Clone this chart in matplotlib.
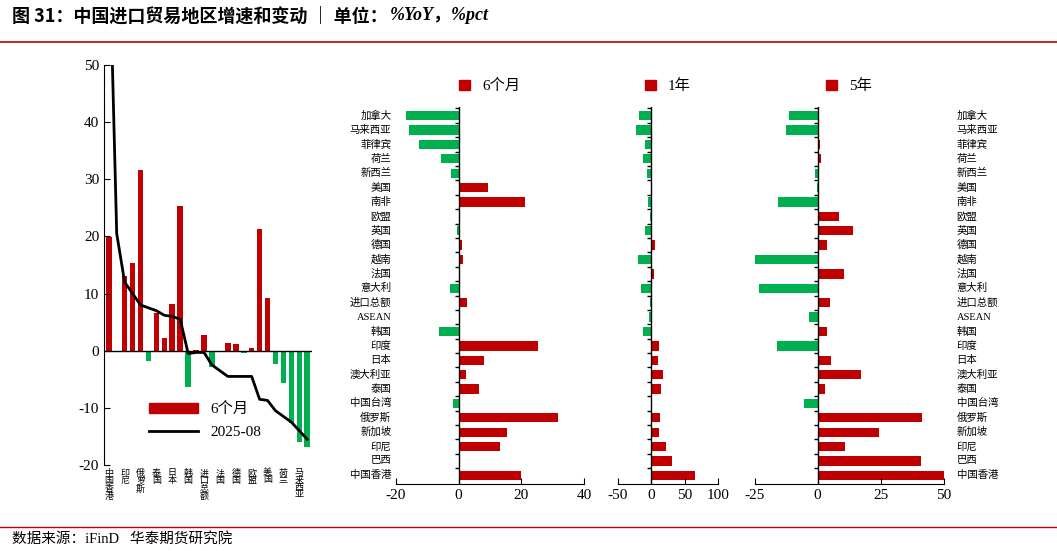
import matplotlib
matplotlib.use("Agg")
import matplotlib.pyplot as plt
from matplotlib.patches import Rectangle

plt.rcParams['font.family'] = ['Liberation Serif', 'Noto Sans CJK SC']
plt.rcParams['axes.unicode_minus'] = False

RED = "#C00000"
GREEN = "#00B050"

# categories bottom -> top
regions = ["中国香港", "巴西", "印尼", "新加坡", "俄罗斯", "中国台湾", "泰国", "澳大利亚", "日本", "印度",
           "韩国", "ASEAN", "进口总额", "意大利", "法国", "越南", "德国", "英国", "欧盟", "南非",
           "美国", "新西兰", "荷兰", "菲律宾", "马来西亚", "加拿大"]
m6 = [19.9, 0, 13.1, 15.3, 31.6, -1.8, 6.6, 2.2, 8.2, 25.3,
      -6.3, 0.1, 2.8, -2.8, 0, 1.3, 1.2, -0.4, 0.4, 21.3,
      9.3, -2.4, -5.7, -12.6, -16.0, -16.8]
y1 = [66, 31, 22, 11, 12.5, 1, 14, 17, 9.5, 12,
      -13, -3, -1.5, -16, 4.5, -20, 6, -10, -1.5, -4.5,
      0.5, -6, -13, -10, -22, -18]
y5 = [50.6, 40.8, 10.8, 24.1, 41.4, -5.4, 2.8, 17.1, 5.1, -15.9,
      3.7, -3.6, 4.7, -23.3, 10.3, -24.9, 3.7, 13.8, 8.6, -15.7,
      -0.2, -0.9, 1.3, 0.8, -12.6, -11.5]
line_2508 = [75, 20.5, 12, 10, 8, 7.5, 7, 6.2, 6, 5.5,
             -0.5, -0.3, -0.3, -2.5, -3.5, -4.5, -4.5, -4.5, -4.5, -8.5,
             -8.7, -10.5, -11.5, -12.5, -14, -15.5]

W, H = 1057, 551
fig = plt.figure(figsize=(W / 100, H / 100), dpi=100)

def rect(x0, y0, x1, y1_):
    return [x0 / W, 1 - y1_ / H, (x1 - x0) / W, (y1_ - y0) / H]

def colors(vals):
    return [RED if v >= 0 else GREEN for v in vals]

# title and footer
t1 = fig.text(12 / W, 1 - 16 / H, "图 31：中国进口贸易地区增速和变动 ｜ 单位：", fontsize=13, fontweight='bold',
              va='center', family=['Noto Sans CJK SC'])
fig.canvas.draw()
bb = t1.get_window_extent(fig.canvas.get_renderer())
fig.text(bb.x1 / W + 0.002, 1 - 16 / H, "%YoY，%pct", fontsize=13, fontweight='bold', style='italic',
         va='center', family=['Liberation Serif', 'Noto Sans CJK SC'])
fig.add_artist(plt.Line2D([0, 1], [1 - 42 / H, 1 - 42 / H], color=RED, lw=1.2))
fig.add_artist(plt.Line2D([0, 1], [1 - 527 / H, 1 - 527 / H], color=RED, lw=1.0))
fig.text(12 / W, 1 - 539 / H, "数据来源：iFinD   华泰期货研究院", fontsize=10.5, va='center')

# left chart
ax = fig.add_axes(rect(104, 65, 312, 465))
xs = range(len(regions))
ax.bar(xs, m6, width=0.7, color=colors(m6))
ax.plot(xs, line_2508, color='black', lw=2)
ax.set_ylim(-20, 50)
ax.set_xlim(-0.6, len(regions) - 0.4)
ax.set_yticks(range(-20, 51, 10))
ax.tick_params(axis='y', labelsize=11, direction='in', length=4)
ax.axhline(0, color='black', lw=1)
ax.set_xticks(list(xs)[::2])
ax.set_xticklabels(["\n".join(r) for r in regions[::2]], fontsize=6.5, linespacing=0.85, va='top')
ax.tick_params(axis='x', length=0, pad=3)
for s in ['top', 'right', 'bottom']:
    ax.spines[s].set_visible(False)
ax.legend([Rectangle((0, 0), 1, 1, color=RED), ax.lines[0]], ["6个月", "2025-08"], loc='lower left',
          bbox_to_anchor=(0.15, 0.03), frameon=False, fontsize=11, handlelength=3.2, labelspacing=0.6)

# right panels
panels = [
    ("6个月", m6, (396, 584), (-20, 40), [-20, 0, 20, 40]),
    ("1年", y1, (617.7, 718.3), (-50, 100), [-50, 0, 50, 100]),
    ("5年", y5, (754.5, 944), (-25, 50), [-25, 0, 25, 50]),
]
for i, (name, vals, (x0, x1), lim, ticks) in enumerate(panels):
    a = fig.add_axes(rect(x0, 107, x1, 484))
    a.barh(range(len(regions)), vals, height=0.65, color=colors(vals))
    a.set_xlim(*lim)
    a.set_ylim(-0.6, len(regions) - 0.4)
    a.set_xticks(ticks)
    a.tick_params(axis='x', labelsize=11, direction='in', length=4)
    for s in ['top', 'right', 'left']:
        a.spines[s].set_visible(False)
    a.axvline(0, color='black', lw=1)
    a.set_yticks([])
    a.plot([0] * len(regions), [k + 0.5 for k in range(len(regions))], ls='none', marker=0,
           color='black', markersize=3)
    if i == 0:
        for k, r in enumerate(regions):
            a.text(-21.5, k, r, ha='right', va='center', fontsize=7.5)
    if i == 2:
        for k, r in enumerate(regions):
            a.text(55, k, r, ha='left', va='center', fontsize=7.5)
    a.legend([Rectangle((0, 0), 1, 1, color=RED)], [name], loc='lower center',
             bbox_to_anchor=(0.5, 1.0), frameon=False, fontsize=11, handlelength=0.7, handleheight=0.7)

fig.savefig("out.png", dpi=100)
